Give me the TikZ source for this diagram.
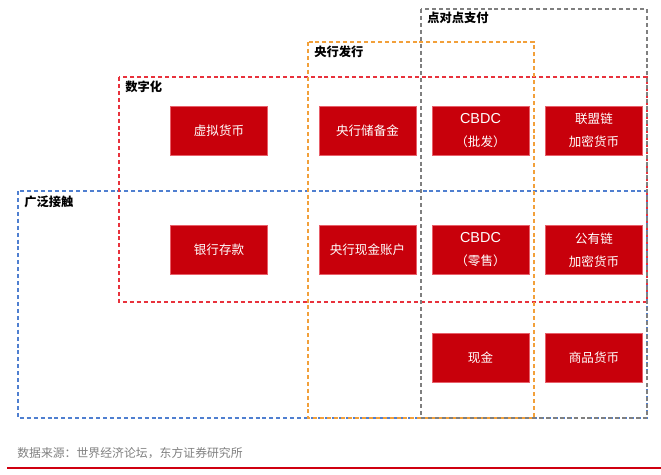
\documentclass[tikz,border=0pt]{standalone}
\usepackage{fontspec}
\setmainfont{Noto Sans CJK SC}
\setsansfont{Noto Sans CJK SC}
\newfontfamily\latinfont{Liberation Sans}
\definecolor{boxred}{HTML}{C8000B}
\definecolor{boxedge}{HTML}{E8606A}
\definecolor{fgray}{HTML}{7F7F7F}
\definecolor{forange}{HTML}{F2A03A}
\definecolor{fred}{HTML}{E8323C}
\definecolor{fblue}{HTML}{4F7FD0}
\definecolor{srcgray}{HTML}{808080}
\definecolor{rule}{HTML}{D00010}
\newcommand{\cbdc}{{\latinfont\fontsize{10.8}{17.25}\selectfont CBDC}}
\begin{document}
\begin{tikzpicture}[x=0.75pt,y=-0.75pt,
  frame/.style={line width=0.8pt,dash pattern=on 3pt off 2.2pt},
  cell/.style={fill=boxred,draw=boxedge,line width=0.6pt,minimum width=72.75pt,minimum height=36.75pt,inner sep=0pt,text=white,align=center,font=\fontsize{9.4}{17.25}\selectfont},
  tag/.style={anchor=west,inner sep=0pt,font=\fontsize{9.2}{11}\selectfont\bfseries}]
\useasboundingbox (0,0) rectangle (661,475);
% frames
\draw[frame,fblue] (18,191) rectangle (647,418);
\draw[frame,fred] (119,77) rectangle (647,302);
\draw[frame,forange] (308,42) rectangle (534,418);
\draw[frame,fgray] (421,9) rectangle (647,418);
% frame labels
\node[tag] (l1) at (427,18) {点对点支付};
\node[tag] (l2) at (314,52) {央行发行};
\node[tag] (l3) at (125,87) {数字化};
\node[tag] (l4) at (24,202) {广泛接触};
% cells
\node[cell] (a1) at (219,130.5) {虚拟货币};
\node[cell] (a2) at (367.5,130.5) {央行储备金};
\node[cell] (a3) at (480.5,130.5) {\cbdc\\（批发）};
\node[cell] (a4) at (594,130.5) {联盟链\\加密货币};
\node[cell] (b1) at (219,250) {银行存款};
\node[cell] (b2) at (367.5,250) {央行现金账户};
\node[cell] (b3) at (480.5,250) {\cbdc\\（零售）};
\node[cell] (b4) at (594,250) {公有链\\加密货币};
\node[cell] (c3) at (480.5,358) {现金};
\node[cell] (c4) at (594,358) {商品货币};
% source
\node[anchor=west,inner sep=0pt,text=srcgray,font=\fontsize{8.9}{11}\selectfont] (src) at (17,453) {数据来源：世界经济论坛，东方证券研究所};
\coordinate (r0) at (7,468);
\coordinate (r1) at (661,468);
\draw[rule,line width=1.2pt] (r0) -- (r1);
\end{tikzpicture}
\end{document}
